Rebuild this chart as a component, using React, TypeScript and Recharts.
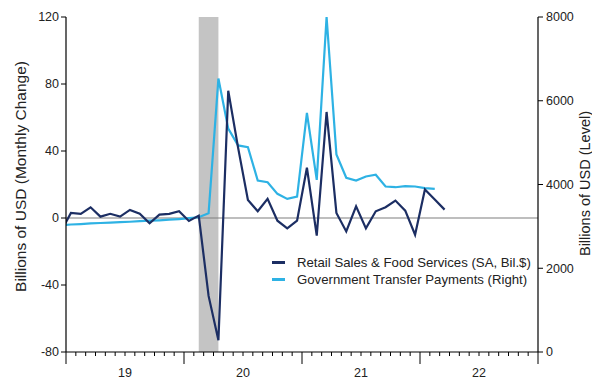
import React from 'react';
import { LineChart, Line, XAxis, YAxis, ReferenceArea, ReferenceLine, Legend } from 'recharts';

// months of the series (year-month)
const months = [
  '2018-12',
  '2019-01', '2019-02', '2019-03', '2019-04', '2019-05', '2019-06',
  '2019-07', '2019-08', '2019-09', '2019-10', '2019-11', '2019-12',
  '2020-01', '2020-02', '2020-03', '2020-04', '2020-05', '2020-06',
  '2020-07', '2020-08', '2020-09', '2020-10', '2020-11', '2020-12',
  '2021-01', '2021-02', '2021-03', '2021-04', '2021-05', '2021-06',
  '2021-07', '2021-08', '2021-09', '2021-10', '2021-11', '2021-12',
  '2022-01', '2022-02', '2022-03',
];

// Retail Sales & Food Services, monthly change (left axis)
const retailSales = [
  -8,
  3, 2.5, 6.4, 0.8, 2.5, 0.8, 4.8, 2.5, -3.2, 2, 2.5, 4,
  -1.8, 1.4, -46.5, -73, 76, 42, 10.8, 4, 11.4, -1.6, -6.2, -1.6,
  30, -10.5, 63.3, 3, -8, 7, -6.2, 4, 6.4, 10.4, 4.4, -10,
  17, 11, 5,
];

// Government Transfer Payments, level (right axis)
const transferPayments = [
  3030,
  3045, 3055, 3070, 3080, 3090, 3100, 3110, 3125, 3135, 3145, 3160, 3175,
  3195, 3217, 3313, 6530, 5333, 4934, 4893, 4096, 4055, 3777, 3657, 3713,
  5708, 4112, 8000, 4719, 4160, 4096, 4192, 4232, 3952, 3935, 3960, 3952,
  3912, 3896,
];

const yearLabels = ['19', '20', '21', '22'];
const leftTicks = [-80, -40, 0, 40, 80, 120];
const rightTicks = [0, 2000, 4000, 6000, 8000];
const recession = ['2020-02', '2020-04'];

const DARK = '#1c2e63';
const LIGHT = '#2eb2e4';
const FONT = '"Liberation Sans", Arial, sans-serif';

// month index from Jan 2019, points sit in the middle of their month
const monthPos = (m: string) => {
  const [y, mo] = m.split('-').map(Number);
  return (y - 2019) * 12 + (mo - 1) + 0.5;
};

const data = months.map((m, i) => ({
  x: monthPos(m),
  retail: retailSales[i],
  transfer: transferPayments[i],
}));

const monthTicks = Array.from({ length: 49 }, (_, i) => i);

const MonthTick = (props: any) => {
  const { x, y, payload } = props;
  const v = payload.value as number;
  const edge = v % 12 === 0;
  return (
    <g>
      <line x1={x} x2={x} y1={y} y2={y + (edge ? 12 : 4)} stroke="#000" strokeWidth={1} />
      {v % 12 === 6 && (
        <text x={x} y={y + 25} textAnchor="middle" fontSize={12.5} fill="#222" fontFamily={FONT}>
          {yearLabels[(v - 6) / 12]}
        </text>
      )}
    </g>
  );
};

const LeftTitle = (props: any) => {
  const { x, y, height } = props.viewBox;
  const cx = x + 20;
  const cy = y + height / 2 - 8;
  return (
    <text x={cx} y={cy} transform={`rotate(-90 ${cx} ${cy})`} textAnchor="middle" dominantBaseline="central"
      fontSize={15.5} fill="#222" fontFamily={FONT}>
      Billions of USD (Monthly Change)
    </text>
  );
};

const RightTitle = (props: any) => {
  const { x, y, height } = props.viewBox;
  const cx = x + 47;
  const cy = y + height / 2 - 1;
  return (
    <text x={cx} y={cy} transform={`rotate(-90 ${cx} ${cy})`} textAnchor="middle" dominantBaseline="central"
      fontSize={14.5} fill="#222" fontFamily={FONT}>
      Billions of USD (Level)
    </text>
  );
};

const legendItems = [
  { label: 'Retail Sales & Food Services (SA, Bil.$)', color: DARK },
  { label: 'Government Transfer Payments (Right)', color: LIGHT },
];

const LegendBox = () => (
  <div style={{ fontFamily: FONT, fontSize: 13.2, color: '#222' }}>
    {legendItems.map((it) => (
      <div key={it.label} style={{ display: 'flex', alignItems: 'center', height: 17 }}>
        <span style={{ display: 'inline-block', width: 13, height: 2.5, background: it.color, marginRight: 12 }} />
        <span style={{ whiteSpace: 'nowrap' }}>{it.label}</span>
      </div>
    ))}
  </div>
);

export default function App() {
  return (
    <div style={{ position: 'absolute', left: 0, top: 0, background: '#fff' }}>
      <LineChart width={592} height={381} data={data} margin={{ top: 17, right: 0, left: 0, bottom: 0 }}>
        <XAxis
          dataKey="x"
          type="number"
          domain={[0, 48]}
          ticks={monthTicks}
          interval={0}
          allowDataOverflow
          height={29}
          tickLine={false}
          tickSize={0}
          tickMargin={0}
          axisLine={{ stroke: '#000', strokeWidth: 1.2 }}
          tick={<MonthTick />}
        />
        <YAxis
          yAxisId="left"
          domain={[-80, 120]}
          ticks={leftTicks}
          width={66}
          tickSize={5}
          tickMargin={2}
          axisLine={{ stroke: '#000', strokeWidth: 1.2 }}
          tickLine={{ stroke: '#000' }}
          tick={{ fill: '#222', fontSize: 12.5, fontFamily: FONT }}
          label={{ content: <LeftTitle /> }}
        />
        <YAxis
          yAxisId="right"
          orientation="right"
          domain={[0, 8000]}
          ticks={rightTicks}
          width={54}
          tickSize={5}
          tickMargin={3}
          axisLine={{ stroke: '#000', strokeWidth: 1.2 }}
          tickLine={{ stroke: '#000' }}
          tick={{ fill: '#222', fontSize: 12.5, fontFamily: FONT }}
          label={{ content: <RightTitle /> }}
        />
        <ReferenceArea
          yAxisId="left"
          x1={monthPos(recession[0])}
          x2={monthPos(recession[1])}
          y1={-80}
          y2={120}
          fill="#c4c4c4"
          fillOpacity={1}
          stroke="none"
        />
        <ReferenceLine yAxisId="left" y={0} stroke="#7f7f7f" strokeWidth={1.2} />
        <Line yAxisId="right" dataKey="transfer" stroke={LIGHT} strokeWidth={2.2} dot={false} isAnimationActive={false} />
        <Line yAxisId="left" dataKey="retail" stroke={DARK} strokeWidth={2.2} dot={false} isAnimationActive={false} />
        <Legend
          layout="vertical"
          align="center"
          verticalAlign="middle"
          content={<LegendBox />}
          wrapperStyle={{ position: 'absolute', left: 272, top: 254, width: 290 }}
        />
      </LineChart>
    </div>
  );
}
